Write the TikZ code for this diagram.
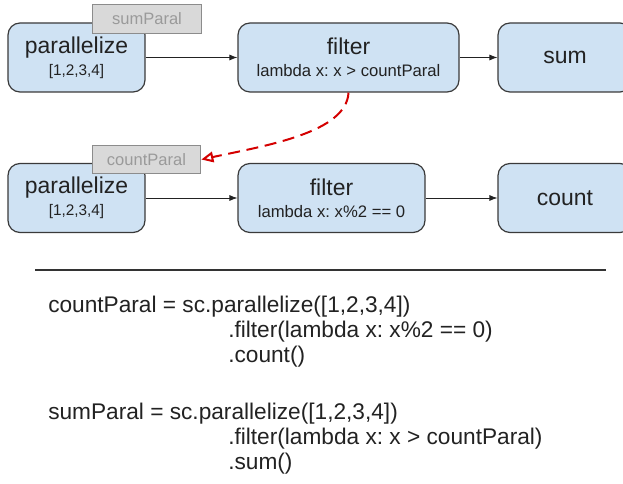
\documentclass[tikz,border=0pt]{standalone}
\usepackage{fontspec}
\setmainfont{Liberation Sans}
\usetikzlibrary{arrows.meta}
\frenchspacing
\definecolor{sBoxFill}{HTML}{CFE2F3}
\definecolor{sBoxEdge}{HTML}{3A3A3A}
\definecolor{sTagFill}{HTML}{D9D9D9}
\definecolor{sTagEdge}{HTML}{8C8C8C}
\definecolor{sTagInk}{HTML}{9A9A9A}
\definecolor{sRed}{HTML}{D40000}
\definecolor{sInk}{HTML}{222222}
\definecolor{sRule}{HTML}{333333}
\newcommand{\sBigFont}{\fontsize{17.2}{17.2}\selectfont}
\newcommand{\sSubFont}{\fontsize{12.5}{15}\selectfont}
\newcommand{\sNumFont}{\fontsize{11.5}{14}\selectfont}
\newcommand{\sTagFont}{\fontsize{12.4}{14}\selectfont}
\newcommand{\sCodeFont}{\fontsize{17}{18.75}\selectfont}

\begin{document}
\begin{tikzpicture}[
  x=0.75pt, y=-0.75pt,
  box/.style={rounded corners=9pt, draw=sBoxEdge, fill=sBoxFill, line width=.9pt,
    inner sep=0pt, align=center, minimum height=51.75pt, font=\sBigFont, text=sInk},
  tag/.style={draw=sTagEdge, fill=sTagFill, text=sTagInk, font=\sTagFont,
    line width=.8pt, inner sep=0pt, minimum width=81.5pt, minimum height=21.5pt},
  flow/.style={-{Latex[length=6pt,width=4.5pt]}, line width=.6pt, draw=sInk},
  feed/.style={-{Triangle[open,length=9pt,width=8pt]}, draw=sRed, line width=1.5pt,
    dash pattern=on 9pt off 5pt},
  code/.style={anchor=north west, align=left, inner sep=0pt, font=\sCodeFont, text=sInk},
]
\useasboundingbox (0,0) rectangle (623,484);
\clip (0,0) rectangle (623,484);

% ---- sum pipeline --------------------------------------------------------
\node[box, minimum width=102.75pt] (par1) at (76.5,57.5)
  {parallelize\\[-1pt]{\sNumFont [1,2,3,4]}};
\node[box, minimum width=165.75pt] (flt1) at (348.5,57.5)
  {filter\\[-1pt]{\sSubFont lambda x: x > countParal}};
\node[box, minimum width=100.5pt] (sum1) at (565,57.5) {sum};
\node[tag] (tagSum) at (147,19) {sumParal};

\draw[flow] (par1) -- (flt1);
\draw[flow] (flt1) -- (sum1);

% ---- count pipeline ------------------------------------------------------
\node[box, minimum width=102.75pt] (par2) at (76.5,198)
  {parallelize\\[-1pt]{\sNumFont [1,2,3,4]}};
\node[box, minimum width=140.25pt] (flt2) at (331.5,198)
  {filter\\[-1pt]{\sSubFont lambda x: x\%2 == 0}};
\node[box, minimum width=100.5pt] (cnt2) at (565,198) {count};
\node[tag] (tagCount) at (146.5,159.5) {countParal};

\draw[flow] (par2) -- (flt2);
\draw[flow] (flt2) -- (cnt2);

% ---- countParal is fed into the sum filter -------------------------------
\draw[feed] (flt1.south) .. controls +(-2,40) and +(65,-14) .. (tagCount.east);

% ---- code ----------------------------------------------------------------
\draw[sRule, line width=1.5pt] (35,270) -- (606,270);

\node[code] (code1) at (48,295.5)
  {countParal = sc.parallelize([1,2,3,4])\\
   \hspace*{135pt}.filter(lambda x: x\%2 == 0)\\
   \hspace*{135pt}.count()};
\node[code] (code2) at (48,402.5)
  {sumParal = sc.parallelize([1,2,3,4])\\
   \hspace*{135pt}.filter(lambda x: x > countParal)\\
   \hspace*{135pt}.sum()};
\end{tikzpicture}
\end{document}
